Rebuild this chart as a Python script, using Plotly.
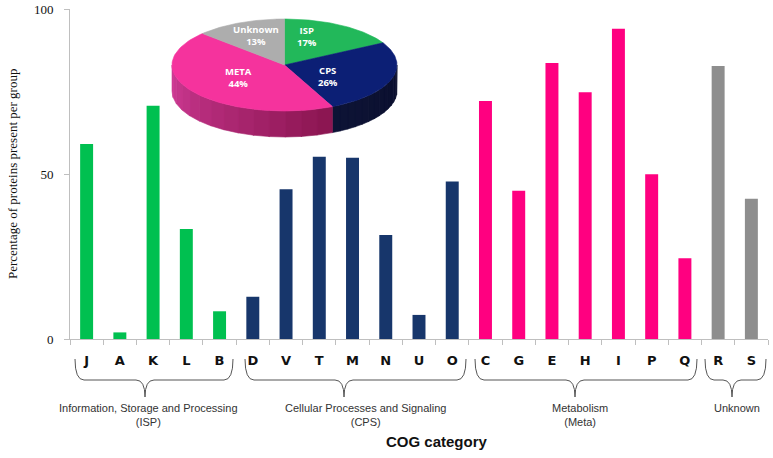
import plotly.graph_objects as go
import numpy as np

# ---------------- data ----------------
categories = ["J", "A", "K", "L", "B", "D", "V", "T", "M", "N", "U", "O",
              "C", "G", "E", "H", "I", "P", "Q", "R", "S"]
values = [59.1, 2.0, 70.7, 33.3, 8.4, 12.8, 45.4, 55.2, 54.9, 31.5, 7.3, 47.7,
          72.1, 44.9, 83.6, 74.8, 94.0, 49.9, 24.5, 82.7, 42.5]
groups = ["ISP", "ISP", "ISP", "ISP", "ISP",
          "CPS", "CPS", "CPS", "CPS", "CPS", "CPS", "CPS",
          "META", "META", "META", "META", "META", "META", "META",
          "Unknown", "Unknown"]
y_ticks = [0, 50, 100]

pie_labels = ["ISP", "CPS", "META", "Unknown"]
pie_share = [17, 26, 44, 13]

group_names = ["Information, Storage and Processing<br>(ISP)",
               "Cellular Processes and Signaling<br>(CPS)",
               "Metabolism<br>(Meta)",
               "Unknown"]

# ---------------- styles ----------------
bar_colors = {"ISP": "#00C050", "CPS": "#17366B", "META": "#FF0080", "Unknown": "#8E8E8E"}
pie_top_colors = {"ISP": "#22B85A", "CPS": "#0C1F75", "META": "#F5339D", "Unknown": "#ADADAD"}

W, H = 773, 458
L, R, T, B = 70, 5, 9, 119
PX0, PX1, PY0, PY1 = L, W - R, T, H - B  # plot area in pixels


def px(x):
    return (x - PX0) / (PX1 - PX0)


def py(y):
    return (PY1 - y) / (PY1 - PY0)


fig = go.Figure()

fig.add_trace(go.Bar(
    x=categories, y=values,
    marker=dict(color=[bar_colors[g] for g in groups], line=dict(width=0)),
    hoverinfo="skip", showlegend=False,
))

# ---------------- 3D pie on pixel overlay axes ----------------
cx, cy, rx, ry, depth = 284.5, 65.0, 112.5, 46.0, 26.0


def ell(theta, dy=0.0):
    t = np.radians(theta)
    return cx + rx * np.sin(t), cy - ry * np.cos(t) + dy


starts = np.concatenate([[0], np.cumsum(pie_share)[:-1]]) * 3.6
ends = np.cumsum(pie_share) * 3.6


def hex2rgb(h):
    return np.array([int(h[i:i + 2], 16) for i in (1, 3, 5)], dtype=float)


def side_poly(s0, s1, color):
    th = np.linspace(s0, s1, 40)
    xt, yt = ell(th)
    xb, yb = ell(th[::-1], depth)
    fig.add_trace(go.Scatter(
        x=np.concatenate([xt, xb, xt[:1]]), y=np.concatenate([yt, yb, yt[:1]]),
        mode="lines", fill="toself", fillcolor=color, line=dict(width=0.6, color=color),
        xaxis="x2", yaxis="y2", hoverinfo="skip", showlegend=False))


side_dark = {"CPS": ("#0B0F2E", "#0E1436"), "META": ("#8A1550", "#D23C98"),
             "ISP": ("#118040", "#118040"), "Unknown": ("#7A7A7A", "#7A7A7A")}
for lab, a0, a1 in zip(pie_labels, starts, ends):
    s0, s1 = max(a0, 90), min(a1, 270)
    if s1 <= s0:
        continue
    c0, c1 = hex2rgb(side_dark[lab][0]), hex2rgb(side_dark[lab][1])
    n = 14
    edges = np.linspace(s0, s1, n + 1)
    for i in range(n):
        f = (i + 0.5) / n
        c = c0 + (c1 - c0) * f
        side_poly(edges[i], edges[i + 1] + 0.3 if i < n - 1 else edges[i + 1],
                  "rgb(%d,%d,%d)" % tuple(c))

for lab, a0, a1 in zip(pie_labels, starts, ends):
    th = np.linspace(a0, a1, 80)
    xs, ys = ell(th)
    fig.add_trace(go.Scatter(
        x=np.concatenate([[cx], xs, [cx]]), y=np.concatenate([[cy], ys, [cy]]),
        mode="lines", fill="toself", fillcolor=pie_top_colors[lab],
        line=dict(width=0.6, color=pie_top_colors[lab]),
        xaxis="x2", yaxis="y2", hoverinfo="skip", showlegend=False))

pie_label_pos = {"ISP": (307, 36), "CPS": (328, 76), "META": (238, 77), "Unknown": (256, 35)}
for lab, share in zip(pie_labels, pie_share):
    x0, y0 = pie_label_pos[lab]
    fig.add_annotation(x=x0, y=y0, xref="x2", yref="y2", xanchor="center", yanchor="middle",
                       text="<b>%s<br>%d%%</b>" % (lab, share), showarrow=False,
                       font=dict(family="Open Sans", size=9.5, color="white"),
                       align="center")

# ---------------- braces and group labels ----------------
brace_spans = [(75, 145, 233), (245, 344, 466), (475, 575, 697), (705, 732, 766)]
y_top, y_mid, y_bot = 359, 380, 397
for (x0, xt, x1) in brace_spans:
    r = 9
    path = (f"M {px(x0)},{py(y_top)} "
            f"Q {px(x0)},{py(y_mid)} {px(x0 + r)},{py(y_mid)} "
            f"L {px(xt - r)},{py(y_mid)} "
            f"Q {px(xt)},{py(y_mid)} {px(xt)},{py(y_bot)} "
            f"Q {px(xt)},{py(y_mid)} {px(xt + r)},{py(y_mid)} "
            f"L {px(x1 - r)},{py(y_mid)} "
            f"Q {px(x1)},{py(y_mid)} {px(x1)},{py(y_top)}")
    fig.add_shape(type="path", path=path, xref="paper", yref="paper",
                  line=dict(color="#555555", width=1))

label_x = [148, 365, 580, 737]
for txt, lx in zip(group_names, label_x):
    fig.add_annotation(x=px(lx), y=py(400), xref="paper", yref="paper",
                       text=txt, showarrow=False, xanchor="center", yanchor="top",
                       align="center",
                       font=dict(family="Liberation Sans", size=11, color="#333333"))

fig.add_annotation(x=px(437), y=py(442), xref="paper", yref="paper",
                   text="<b>COG category</b>", showarrow=False,
                   xanchor="center", yanchor="middle",
                   font=dict(family="Liberation Sans", size=15, color="#111111"))

fig.add_annotation(x=px(12), y=0.5, xref="paper", yref="paper",
                   text="Percentage of proteins present per group", textangle=-90,
                   showarrow=False, xanchor="center", yanchor="middle",
                   font=dict(family="Liberation Serif", size=13, color="#111111"))

fig.update_layout(
    width=W, height=H,
    margin=dict(l=L, r=R, t=T, b=B, autoexpand=False),
    paper_bgcolor="white", plot_bgcolor="white",
    bargap=0.61,
    showlegend=False,
    xaxis=dict(
        type="category", showgrid=False, zeroline=False,
        showline=True, linecolor="#BFBFBF", linewidth=1,
        ticks="outside", ticklen=5, tickcolor="#BFBFBF", tickson="boundaries",
        tickfont=dict(family="DejaVu Sans", size=13, color="#111111", weight="bold"),
        ticklabelstandoff=9,
    ),
    yaxis=dict(
        range=[0, 100], tickvals=y_ticks, showgrid=False, zeroline=False,
        showline=True, linecolor="#BFBFBF", linewidth=1,
        ticks="outside", ticklen=5, tickcolor="#BFBFBF",
        tickfont=dict(family="Liberation Serif", size=13, color="#111111"),
        ticklabelstandoff=8,
    ),
    xaxis2=dict(overlaying="x", range=[PX0, PX1], visible=False, fixedrange=True),
    yaxis2=dict(overlaying="y", range=[PY1, PY0], visible=False, fixedrange=True),
)

fig.write_html("out.html", config={"displayModeBar": False},
               post_script="document.body.style.margin='0';document.body.style.overflow='hidden';")
